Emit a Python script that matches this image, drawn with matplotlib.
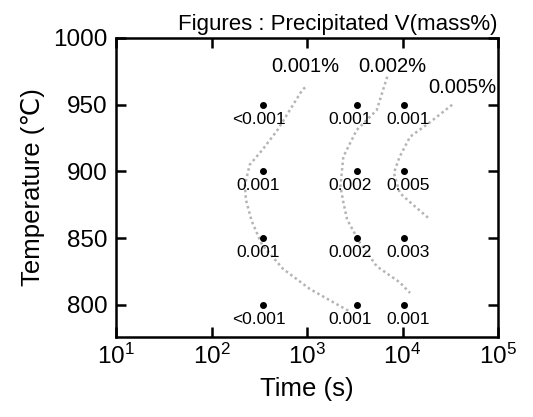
import matplotlib
matplotlib.use("Agg")
import matplotlib.pyplot as plt

plt.rcParams['font.family'] = ['Liberation Sans', 'DejaVu Sans']
plt.rcParams['mathtext.fontset'] = 'custom'
plt.rcParams['mathtext.rm'] = 'Liberation Sans'
plt.rcParams['mathtext.it'] = 'Liberation Sans'

# Holding times (s) and temperatures (C) of the measured points
times = [350, 3300, 10400]
temps = [950, 900, 850, 800]

# Precipitated V (mass%) at each point, rows = temps, cols = times
values = [
    ["<0.001", "0.001", "0.001"],
    ["0.001", "0.002", "0.005"],
    ["0.001", "0.002", "0.003"],
    ["<0.001", "0.001", "0.001"],
]

# Iso-precipitation curves (time s, temperature C)
curve_001_t = [955, 891, 661, 490, 339, 251, 224, 229, 263, 339, 562, 1070, 2240, 2820]
curve_001_T = [963, 961, 946, 931, 916, 905, 890, 879, 863, 845, 827, 812, 799, 795]
curve_002_t = [6920, 5370, 3310, 2400, 2240, 2400, 2630, 3550, 5370, 9330, 12000]
curve_002_T = [971, 946, 931, 911, 889, 877, 864, 847, 829, 817, 809]
curve_005_t = [33100, 19500, 12000, 9330, 8130, 9330, 12000, 19500]
curve_005_T = [950, 937, 926, 911, 899, 884, 877, 864]

curve_labels = ["0.001%", "0.002%", "0.005%"]
curve_label_t = [953, 7760, 42000]
curve_label_T = [979, 979, 963]

xticks = [1e1, 1e2, 1e3, 1e4, 1e5]
xtick_labels = ["$10^1$", "$10^2$", "$10^3$", "$10^4$", "$10^5$"]
yticks = [800, 850, 900, 950, 1000]


def main():
    fig = plt.figure(figsize=(5.33, 4.17), dpi=100)
    ax = fig.add_axes([116 / 533, 80 / 417, 382 / 533, 299 / 417])

    grey = "#b4b4b4"
    for ct, cT in [(curve_001_t, curve_001_T), (curve_002_t, curve_002_T), (curve_005_t, curve_005_T)]:
        ax.plot(ct, cT, linestyle=(0, (1, 1.2)), color=grey, lw=1.8)

    # column specific shift of the value labels (pixels)
    shifts = [-5, -6, 4]
    for i, T in enumerate(temps):
        for j, t in enumerate(times):
            ax.plot(t, T, "o", color="black", ms=4)
            ax.annotate(values[i][j], (t, T), xytext=(shifts[j], -14.5),
                        textcoords="offset pixels", ha="center", va="center",
                        fontsize=12.5)

    for lab, t, T in zip(curve_labels, curve_label_t, curve_label_T):
        ax.text(t, T, lab, ha="center", va="center", fontsize=14.5)

    ax.set_xscale("log")
    ax.set_xlim(1e1, 1e5)
    ax.set_ylim(776, 1000)
    ax.set_xticks(xticks)
    ax.set_xticklabels(xtick_labels)
    ax.set_yticks(yticks)
    ax.minorticks_off()
    ax.tick_params(direction="in", length=7, width=1.8, top=True, right=True,
                   labelsize=17.5)
    ax.tick_params(axis="x", pad=5)
    ax.tick_params(axis="y", pad=6)
    for sp in ax.spines.values():
        sp.set_linewidth(1.8)

    ax.set_xlabel("Time (s)", fontsize=18.5, labelpad=6)
    ax.set_ylabel("Temperature (\u2103)", fontsize=18.5, labelpad=6)
    ax.set_title("Figures : Precipitated V(mass%)", fontsize=16, loc="right", pad=6)

    fig.savefig("out.png", dpi=100)


if __name__ == "__main__":
    main()
